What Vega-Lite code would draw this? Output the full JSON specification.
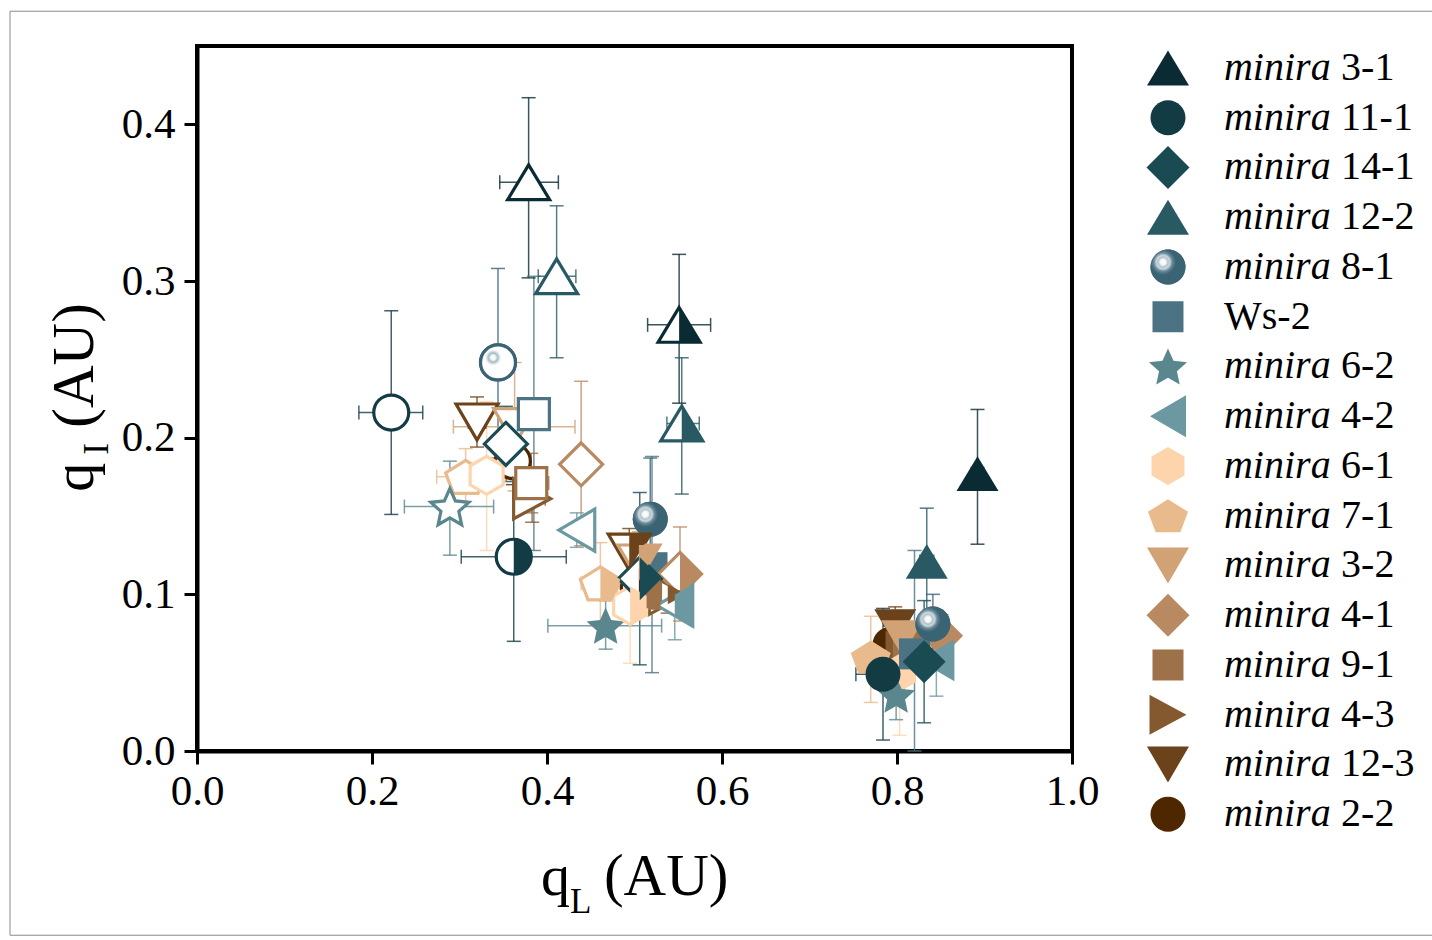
{
  "$schema": "https://vega.github.io/schema/vega-lite/v6.json",
  "width": 875,
  "height": 705,
  "autosize": {"type": "none"},
  "padding": {"left": 197, "top": 46, "right": 360, "bottom": 189},
  "background": "white",
  "config": {
    "view": {"stroke": "black", "strokeWidth": 4},
    "font": "Liberation Serif",
    "axis": {"domainColor": "black", "domainWidth": 4, "tickColor": "black", "tickWidth": 3, "tickSize": 13, "labelFont": "Liberation Serif", "labelFontSize": 43, "labelColor": "black", "grid": false, "labelFlush": false}
  },
  "datasets": {
    "points": [
      {"s": "2-2", "st": "f", "x": 0.792, "y": 0.068, "xlo": 0.784, "xhi": 0.8, "ylo": 0.056, "yhi": 0.08},
      {"s": "2-2", "st": "o", "x": 0.361, "y": 0.185, "xlo": 0.35, "xhi": 0.372, "ylo": 0.17, "yhi": 0.2},
      {"s": "2-2", "st": "h", "x": 0.505, "y": 0.105, "xlo": 0.495, "xhi": 0.515, "ylo": 0.092, "yhi": 0.118},
      {"s": "12-3", "st": "f", "x": 0.798, "y": 0.079, "xlo": 0.79, "xhi": 0.806, "ylo": 0.066, "yhi": 0.092},
      {"s": "12-3", "st": "o", "x": 0.32, "y": 0.21, "xlo": 0.31, "xhi": 0.33, "ylo": 0.194, "yhi": 0.226},
      {"s": "12-3", "st": "h", "x": 0.494, "y": 0.127, "xlo": 0.486, "xhi": 0.502, "ylo": 0.112, "yhi": 0.142},
      {"s": "4-3", "st": "f", "x": 0.808, "y": 0.064, "xlo": 0.8, "xhi": 0.816, "ylo": 0.052, "yhi": 0.076},
      {"s": "4-3", "st": "o", "x": 0.383, "y": 0.161, "xlo": 0.368, "xhi": 0.398, "ylo": 0.146, "yhi": 0.176},
      {"s": "4-3", "st": "h", "x": 0.538, "y": 0.1, "xlo": 0.528, "xhi": 0.548, "ylo": 0.088, "yhi": 0.112},
      {"s": "9-1", "st": "f", "x": 0.813, "y": 0.068, "xlo": 0.805, "xhi": 0.821, "ylo": 0.055, "yhi": 0.081},
      {"s": "9-1", "st": "o", "x": 0.382, "y": 0.171, "xlo": 0.362, "xhi": 0.402, "ylo": 0.152, "yhi": 0.19},
      {"s": "9-1", "st": "h", "x": 0.512, "y": 0.101, "xlo": 0.502, "xhi": 0.522, "ylo": 0.088, "yhi": 0.114},
      {"s": "4-1", "st": "f", "x": 0.851, "y": 0.0735, "xlo": 0.843, "xhi": 0.859, "ylo": 0.06, "yhi": 0.087},
      {"s": "4-1", "st": "o", "x": 0.439, "y": 0.183, "xlo": 0.43, "xhi": 0.448, "ylo": 0.131, "yhi": 0.236},
      {"s": "4-1", "st": "h", "x": 0.552, "y": 0.113, "xlo": 0.544, "xhi": 0.56, "ylo": 0.083, "yhi": 0.143},
      {"s": "3-2", "st": "f", "x": 0.806, "y": 0.072, "xlo": 0.798, "xhi": 0.814, "ylo": 0.055, "yhi": 0.089},
      {"s": "3-2", "st": "o", "x": 0.363, "y": 0.207, "xlo": 0.293, "xhi": 0.432, "ylo": 0.166, "yhi": 0.248},
      {"s": "3-2", "st": "h", "x": 0.505, "y": 0.12, "xlo": 0.495, "xhi": 0.515, "ylo": 0.1, "yhi": 0.14},
      {"s": "7-1", "st": "f", "x": 0.77, "y": 0.06, "xlo": 0.76, "xhi": 0.78, "ylo": 0.031, "yhi": 0.086},
      {"s": "7-1", "st": "o", "x": 0.307, "y": 0.175, "xlo": 0.274, "xhi": 0.34, "ylo": 0.156, "yhi": 0.193},
      {"s": "7-1", "st": "h", "x": 0.461, "y": 0.107, "xlo": 0.439, "xhi": 0.483, "ylo": 0.08, "yhi": 0.133},
      {"s": "6-1", "st": "f", "x": 0.803, "y": 0.05, "xlo": 0.795, "xhi": 0.811, "ylo": 0.01, "yhi": 0.09},
      {"s": "6-1", "st": "o", "x": 0.331, "y": 0.176, "xlo": 0.31, "xhi": 0.352, "ylo": 0.128, "yhi": 0.223},
      {"s": "6-1", "st": "h", "x": 0.495, "y": 0.093, "xlo": 0.485, "xhi": 0.505, "ylo": 0.056, "yhi": 0.133},
      {"s": "4-2", "st": "f", "x": 0.845, "y": 0.058, "xlo": 0.837, "xhi": 0.853, "ylo": 0.035, "yhi": 0.081},
      {"s": "4-2", "st": "o", "x": 0.434, "y": 0.141, "xlo": 0.425, "xhi": 0.443, "ylo": 0.13, "yhi": 0.152},
      {"s": "4-2", "st": "h", "x": 0.546, "y": 0.093, "xlo": 0.537, "xhi": 0.555, "ylo": 0.071, "yhi": 0.115},
      {"s": "6-2", "st": "f", "x": 0.799, "y": 0.036, "xlo": 0.79, "xhi": 0.808, "ylo": 0.02, "yhi": 0.052},
      {"s": "6-2", "st": "o", "x": 0.289, "y": 0.156, "xlo": 0.237, "xhi": 0.339, "ylo": 0.125, "yhi": 0.185},
      {"s": "6-2", "st": "f", "x": 0.467, "y": 0.08, "xlo": 0.401, "xhi": 0.531, "ylo": 0.065, "yhi": 0.096},
      {"s": "Ws-2", "st": "f", "x": 0.82, "y": 0.062, "xlo": 0.812, "xhi": 0.828, "ylo": 0.0, "yhi": 0.128},
      {"s": "Ws-2", "st": "o", "x": 0.385, "y": 0.215, "xlo": 0.375, "xhi": 0.395, "ylo": 0.128, "yhi": 0.303},
      {"s": "Ws-2", "st": "f", "x": 0.52, "y": 0.117, "xlo": 0.51, "xhi": 0.53, "ylo": 0.05, "yhi": 0.188},
      {"s": "8-1", "st": "f", "x": 0.841, "y": 0.081, "xlo": 0.832, "xhi": 0.85, "ylo": 0.062, "yhi": 0.1},
      {"s": "8-1", "st": "o", "x": 0.344, "y": 0.248, "xlo": 0.33, "xhi": 0.36, "ylo": 0.187, "yhi": 0.308},
      {"s": "8-1", "st": "f", "x": 0.518, "y": 0.148, "xlo": 0.51, "xhi": 0.526, "ylo": 0.109, "yhi": 0.187},
      {"s": "12-2", "st": "f", "x": 0.834, "y": 0.121, "xlo": 0.826, "xhi": 0.842, "ylo": 0.087, "yhi": 0.155},
      {"s": "12-2", "st": "o", "x": 0.411, "y": 0.303, "xlo": 0.39, "xhi": 0.433, "ylo": 0.251, "yhi": 0.348},
      {"s": "12-2", "st": "h", "x": 0.554, "y": 0.209, "xlo": 0.537, "xhi": 0.574, "ylo": 0.164, "yhi": 0.251},
      {"s": "14-1", "st": "f", "x": 0.831, "y": 0.057, "xlo": 0.822, "xhi": 0.84, "ylo": 0.018, "yhi": 0.096},
      {"s": "14-1", "st": "o", "x": 0.353, "y": 0.196, "xlo": 0.335, "xhi": 0.37, "ylo": 0.172, "yhi": 0.22},
      {"s": "14-1", "st": "h", "x": 0.506, "y": 0.11, "xlo": 0.49, "xhi": 0.522, "ylo": 0.055, "yhi": 0.165},
      {"s": "11-1", "st": "f", "x": 0.784, "y": 0.049, "xlo": 0.753, "xhi": 0.815, "ylo": 0.007, "yhi": 0.091},
      {"s": "11-1", "st": "o", "x": 0.222, "y": 0.216, "xlo": 0.185, "xhi": 0.258, "ylo": 0.151, "yhi": 0.281},
      {"s": "11-1", "st": "h", "x": 0.362, "y": 0.124, "xlo": 0.302, "xhi": 0.422, "ylo": 0.07, "yhi": 0.179},
      {"s": "3-1", "st": "f", "x": 0.892, "y": 0.177, "xlo": 0.885, "xhi": 0.899, "ylo": 0.132, "yhi": 0.218},
      {"s": "3-1", "st": "o", "x": 0.379, "y": 0.363, "xlo": 0.346, "xhi": 0.413, "ylo": 0.302, "yhi": 0.417},
      {"s": "3-1", "st": "h", "x": 0.551, "y": 0.272, "xlo": 0.515, "xhi": 0.587, "ylo": 0.222, "yhi": 0.317}
    ],
    "legend": [
      {"s": "3-1", "i": 0, "pre": "minira", "num": "3-1", "plain": ""},
      {"s": "11-1", "i": 1, "pre": "minira", "num": "11-1", "plain": ""},
      {"s": "14-1", "i": 2, "pre": "minira", "num": "14-1", "plain": ""},
      {"s": "12-2", "i": 3, "pre": "minira", "num": "12-2", "plain": ""},
      {"s": "8-1", "i": 4, "pre": "minira", "num": "8-1", "plain": ""},
      {"s": "Ws-2", "i": 5, "pre": "", "num": "", "plain": "Ws-2"},
      {"s": "6-2", "i": 6, "pre": "minira", "num": "6-2", "plain": ""},
      {"s": "4-2", "i": 7, "pre": "minira", "num": "4-2", "plain": ""},
      {"s": "6-1", "i": 8, "pre": "minira", "num": "6-1", "plain": ""},
      {"s": "7-1", "i": 9, "pre": "minira", "num": "7-1", "plain": ""},
      {"s": "3-2", "i": 10, "pre": "minira", "num": "3-2", "plain": ""},
      {"s": "4-1", "i": 11, "pre": "minira", "num": "4-1", "plain": ""},
      {"s": "9-1", "i": 12, "pre": "minira", "num": "9-1", "plain": ""},
      {"s": "4-3", "i": 13, "pre": "minira", "num": "4-3", "plain": ""},
      {"s": "12-3", "i": 14, "pre": "minira", "num": "12-3", "plain": ""},
      {"s": "2-2", "i": 15, "pre": "minira", "num": "2-2", "plain": ""}
    ]
  },
  "resolve": {"scale": {"y": "independent", "shape": "independent"}},
  "layer": [
    {
      "data": {"name": "points"},
      "resolve": {"scale": {"shape": "independent"}},
      "layer": [
        {
          "data": {"values": [{"k": 1}]},
          "mark": {"type": "rect", "filled": false, "stroke": "#8a8a8a", "strokeWidth": 1},
          "encoding": {
            "x": {"datum": -0.2137, "type": "quantitative", "title": null},
            "x2": {"datum": 1.5},
            "y": {"datum": 0.4722, "type": "quantitative", "title": null},
            "y2": {"datum": -0.1176}
          }
        },
        {
          "mark": {"type": "rule", "strokeWidth": 1.5, "opacity": 0.8},
          "encoding": {
            "x": {"field": "x", "type": "quantitative", "scale": {"domain": [0, 1], "nice": false, "zero": false}, "axis": {"values": [0, 0.2, 0.4, 0.6, 0.8, 1], "format": ".1f", "title": null, "labelPadding": 6}},
            "y": {"field": "ylo", "type": "quantitative", "scale": {"domain": [0, 0.45], "nice": false, "zero": false}, "axis": {"values": [0, 0.1, 0.2, 0.3, 0.4], "format": ".1f", "title": null, "labelPadding": 9}},
            "y2": {"field": "yhi"},
            "color": {"field": "s", "type": "nominal", "legend": null, "scale": {"domain": ["3-1","11-1","14-1","12-2","8-1","Ws-2","6-2","4-2","6-1","7-1","3-2","4-1","9-1","4-3","12-3","2-2"], "range": ["#0a2b33","#123b44","#1a4a52","#295a64","#3a6374","#4b7384","#5a878e","#6c99a1","#fdd4ab","#e9ba8b","#d0a276","#b98a61","#9d714a","#845930","#6b4219","#4e2700"]}}
          }
        },
        {
          "mark": {"type": "tick", "orient": "horizontal", "size": 14, "thickness": 1.5, "opacity": 0.8},
          "encoding": {"x": {"field": "x", "type": "quantitative", "title": null}, "y": {"field": "ylo", "type": "quantitative", "title": null}, "color": {"field": "s", "type": "nominal", "legend": null}}
        },
        {
          "mark": {"type": "tick", "orient": "horizontal", "size": 14, "thickness": 1.5, "opacity": 0.8},
          "encoding": {"x": {"field": "x", "type": "quantitative", "title": null}, "y": {"field": "yhi", "type": "quantitative", "title": null}, "color": {"field": "s", "type": "nominal", "legend": null}}
        },
        {
          "mark": {"type": "rule", "strokeWidth": 1.5, "opacity": 0.8},
          "encoding": {"x": {"field": "xlo", "type": "quantitative", "title": null}, "x2": {"field": "xhi"}, "y": {"field": "y", "type": "quantitative", "title": null}, "color": {"field": "s", "type": "nominal", "legend": null}}
        },
        {
          "mark": {"type": "tick", "orient": "vertical", "size": 14, "thickness": 1.5, "opacity": 0.8},
          "encoding": {"x": {"field": "xlo", "type": "quantitative", "title": null}, "y": {"field": "y", "type": "quantitative", "title": null}, "color": {"field": "s", "type": "nominal", "legend": null}}
        },
        {
          "mark": {"type": "tick", "orient": "vertical", "size": 14, "thickness": 1.5, "opacity": 0.8},
          "encoding": {"x": {"field": "xhi", "type": "quantitative", "title": null}, "y": {"field": "y", "type": "quantitative", "title": null}, "color": {"field": "s", "type": "nominal", "legend": null}}
        },
        {
          "transform": [{"filter": "datum.st === 'f'"}],
          "mark": {"type": "point", "filled": true, "size": 1600, "opacity": 1, "strokeWidth": 0},
          "encoding": {
            "x": {"field": "x", "type": "quantitative", "title": null},
            "y": {"field": "y", "type": "quantitative", "title": null},
            "color": {"field": "s", "type": "nominal", "legend": null},
            "shape": {"field": "s", "type": "nominal", "legend": null, "scale": {"domain": ["3-1","11-1","14-1","12-2","8-1","Ws-2","6-2","4-2","6-1","7-1","3-2","4-1","9-1","4-3","12-3","2-2"], "range": ["M0,-0.87L1.05,0.87L-1.05,0.87Z","M0.875,0A0.875,0.875,0,1,1,-0.875,0A0.875,0.875,0,1,1,0.875,0Z","M0,-1.075L1.075,0L0,1.075L-1.075,0Z","M0,-0.87L1.05,0.87L-1.05,0.87Z","M0.875,0A0.875,0.875,0,1,1,-0.875,0A0.875,0.875,0,1,1,0.875,0Z","M-0.775,-0.775L0.775,-0.775L0.775,0.775L-0.775,0.775Z","M0,-0.905L0.276,-0.285L0.951,-0.214L0.447,0.241L0.588,0.905L0,0.566L-0.588,0.905L-0.447,0.241L-0.951,-0.214L-0.276,-0.285Z","M-0.9,0L0.9,-1.05L0.9,1.05Z","M0,-0.95L0.823,-0.475L0.823,0.475L0,0.95L-0.823,0.475L-0.823,-0.475Z","M0,-0.825L1,-0.195L0.618,0.825L-0.618,0.825L-1,-0.195Z","M-1.05,-0.9L1.05,-0.9L0,0.9Z","M0,-1.075L1.075,0L0,1.075L-1.075,0Z","M-0.775,-0.775L0.775,-0.775L0.775,0.775L-0.775,0.775Z","M0.925,0L-0.925,-1L-0.925,1Z","M-1.05,-0.9L1.05,-0.9L0,0.9Z","M0.875,0A0.875,0.875,0,1,1,-0.875,0A0.875,0.875,0,1,1,0.875,0Z"]}}
          }
        },
        {
          "transform": [{"filter": "datum.st === 'f' && datum.s === '8-1'"}],
          "mark": {"type": "point", "filled": true, "size": 1600, "opacity": 1, "strokeWidth": 0, "shape": "M0.875,0A0.875,0.875,0,1,1,-0.875,0A0.875,0.875,0,1,1,0.875,0Z",
            "fill": {"gradient": "radial", "x1": 0.36, "y1": 0.36, "r1": 0, "x2": 0.36, "y2": 0.36, "r2": 0.5, "stops": [{"offset": 0, "color": "#ffffff"}, {"offset": 0.18, "color": "#f2f6f7"}, {"offset": 0.28, "color": "#a9bcc4"}, {"offset": 0.38, "color": "#d6e0e4"}, {"offset": 0.52, "color": "#6a8b9a"}, {"offset": 0.72, "color": "#3a6374"}, {"offset": 1, "color": "#3a6374"}]}},
          "encoding": {"x": {"field": "x", "type": "quantitative", "title": null}, "y": {"field": "y", "type": "quantitative", "title": null}}
        },
        {
          "transform": [{"filter": "datum.st !== 'f'"}],
          "mark": {"type": "point", "filled": false, "fill": "white", "size": 1600, "opacity": 1, "strokeWidth": 3.2, "fillOpacity": 1},
          "encoding": {
            "x": {"field": "x", "type": "quantitative", "title": null},
            "y": {"field": "y", "type": "quantitative", "title": null},
            "color": {"field": "s", "type": "nominal", "legend": null},
            "shape": {"field": "s", "type": "nominal", "legend": null, "scale": {"domain": ["3-1","11-1","14-1","12-2","8-1","Ws-2","6-2","4-2","6-1","7-1","3-2","4-1","9-1","4-3","12-3","2-2"], "range": ["M0,-0.87L1.05,0.87L-1.05,0.87Z","M0.875,0A0.875,0.875,0,1,1,-0.875,0A0.875,0.875,0,1,1,0.875,0Z","M0,-1.075L1.075,0L0,1.075L-1.075,0Z","M0,-0.87L1.05,0.87L-1.05,0.87Z","M0.875,0A0.875,0.875,0,1,1,-0.875,0A0.875,0.875,0,1,1,0.875,0Z","M-0.775,-0.775L0.775,-0.775L0.775,0.775L-0.775,0.775Z","M0,-0.905L0.276,-0.285L0.951,-0.214L0.447,0.241L0.588,0.905L0,0.566L-0.588,0.905L-0.447,0.241L-0.951,-0.214L-0.276,-0.285Z","M-0.9,0L0.9,-1.05L0.9,1.05Z","M0,-0.95L0.823,-0.475L0.823,0.475L0,0.95L-0.823,0.475L-0.823,-0.475Z","M0,-0.825L1,-0.195L0.618,0.825L-0.618,0.825L-1,-0.195Z","M-1.05,-0.9L1.05,-0.9L0,0.9Z","M0,-1.075L1.075,0L0,1.075L-1.075,0Z","M-0.775,-0.775L0.775,-0.775L0.775,0.775L-0.775,0.775Z","M0.925,0L-0.925,-1L-0.925,1Z","M-1.05,-0.9L1.05,-0.9L0,0.9Z","M0.875,0A0.875,0.875,0,1,1,-0.875,0A0.875,0.875,0,1,1,0.875,0Z"]}}
          }
        },
        {
          "transform": [{"filter": "datum.st === 'o' && datum.s === '8-1'"}],
          "mark": {"type": "point", "size": 1600, "opacity": 1, "strokeWidth": 3.2, "stroke": "#3a6374", "shape": "M0.875,0A0.875,0.875,0,1,1,-0.875,0A0.875,0.875,0,1,1,0.875,0Z",
            "fill": {"gradient": "radial", "x1": 0.36, "y1": 0.36, "r1": 0, "x2": 0.36, "y2": 0.36, "r2": 0.5, "stops": [{"offset": 0, "color": "#ffffff"}, {"offset": 0.16, "color": "#eef3f4"}, {"offset": 0.26, "color": "#9fb4bd"}, {"offset": 0.34, "color": "#d0dce0"}, {"offset": 0.46, "color": "#ffffff"}, {"offset": 1, "color": "#ffffff"}]}},
          "encoding": {"x": {"field": "x", "type": "quantitative", "title": null}, "y": {"field": "y", "type": "quantitative", "title": null}}
        },
        {
          "transform": [{"filter": "datum.st === 'h'"}],
          "mark": {"type": "point", "filled": true, "size": 1600, "opacity": 1, "strokeWidth": 0},
          "encoding": {
            "x": {"field": "x", "type": "quantitative", "title": null},
            "y": {"field": "y", "type": "quantitative", "title": null},
            "color": {"field": "s", "type": "nominal", "legend": null},
            "shape": {"field": "s", "type": "nominal", "legend": null, "scale": {"domain": ["3-1","11-1","14-1","12-2","8-1","Ws-2","6-2","4-2","6-1","7-1","3-2","4-1","9-1","4-3","12-3","2-2"], "range": ["M0,-0.87L1.05,0.87L0,0.87Z","M0,-0.875A0.875,0.875,0,0,1,0,0.875Z","M0,-1.075L1.075,0L0,1.075Z","M0,-0.87L1.05,0.87L0,0.87Z","M0,-0.875A0.875,0.875,0,0,1,0,0.875Z","M0,-0.775L0.775,-0.775L0.775,0.775L0,0.775Z","M0,-0.905L0.276,-0.285L0.951,-0.214L0.447,0.241L0.588,0.905L0,0.566Z","M0,-0.525L0.9,-1.05L0.9,1.05L0,0.525Z","M0,-0.95L0.823,-0.475L0.823,0.475L0,0.95Z","M0,-0.825L1,-0.195L0.618,0.825L0,0.825Z","M0,-0.9L1.05,-0.9L0,0.9Z","M0,-1.075L1.075,0L0,1.075Z","M0,-0.775L0.775,-0.775L0.775,0.775L0,0.775Z","M0,-0.5L0.925,0L0,0.5Z","M0,-0.9L1.05,-0.9L0,0.9Z","M0,-0.875A0.875,0.875,0,0,1,0,0.875Z"]}}
          }
        },
        {
          "data": {"values": [{"t": "q"}]},
          "mark": {"type": "text", "font": "Liberation Serif", "fontSize": 58, "align": "left", "baseline": "alphabetic", "color": "black"},
          "encoding": {"text": {"field": "t"}, "x": {"datum": 0.3931, "type": "quantitative", "title": null}, "y": {"datum": -0.092, "type": "quantitative", "title": null}}
        },
        {
          "data": {"values": [{"t": "L"}]},
          "mark": {"type": "text", "font": "Liberation Serif", "fontSize": 35, "align": "left", "baseline": "alphabetic", "color": "black"},
          "encoding": {"text": {"field": "t"}, "x": {"datum": 0.4263, "type": "quantitative", "title": null}, "y": {"datum": -0.1035, "type": "quantitative", "title": null}}
        },
        {
          "data": {"values": [{"t": "(AU)"}]},
          "mark": {"type": "text", "font": "Liberation Serif", "fontSize": 59, "align": "left", "baseline": "alphabetic", "color": "black"},
          "encoding": {"text": {"field": "t"}, "x": {"datum": 0.4651, "type": "quantitative", "title": null}, "y": {"datum": -0.092, "type": "quantitative", "title": null}}
        },
        {
          "data": {"values": [{"t": "q"}]},
          "mark": {"type": "text", "font": "Liberation Serif", "fontSize": 58, "align": "left", "baseline": "alphabetic", "angle": 270, "color": "black"},
          "encoding": {"text": {"field": "t"}, "x": {"datum": -0.1189, "type": "quantitative", "title": null}, "y": {"datum": 0.1655, "type": "quantitative", "title": null}}
        },
        {
          "data": {"values": [{"t": "I"}]},
          "mark": {"type": "text", "font": "Liberation Serif", "fontSize": 35, "align": "left", "baseline": "alphabetic", "angle": 270, "color": "black"},
          "encoding": {"text": {"field": "t"}, "x": {"datum": -0.1017, "type": "quantitative", "title": null}, "y": {"datum": 0.1891, "type": "quantitative", "title": null}}
        },
        {
          "data": {"values": [{"t": "(AU)"}]},
          "mark": {"type": "text", "font": "Liberation Serif", "fontSize": 59, "align": "left", "baseline": "alphabetic", "angle": 270, "color": "black"},
          "encoding": {"text": {"field": "t"}, "x": {"datum": -0.1189, "type": "quantitative", "title": null}, "y": {"datum": 0.2064, "type": "quantitative", "title": null}}
        }
      ]
    },
    {
      "data": {"name": "legend"},
      "layer": [
        {
          "mark": {"type": "point", "filled": true, "size": 1600, "opacity": 1, "strokeWidth": 0},
          "encoding": {
            "x": {"datum": 1.1097, "type": "quantitative", "title": null},
            "y": {"field": "i", "type": "quantitative", "axis": null, "scale": {"domain": [-0.4422, 13.729], "reverse": true, "nice": false, "zero": false}},
            "color": {"field": "s", "type": "nominal", "legend": null},
            "shape": {"field": "s", "type": "nominal", "legend": null, "scale": {"domain": ["3-1","11-1","14-1","12-2","8-1","Ws-2","6-2","4-2","6-1","7-1","3-2","4-1","9-1","4-3","12-3","2-2"], "range": ["M0,-0.87L1.05,0.87L-1.05,0.87Z","M0.875,0A0.875,0.875,0,1,1,-0.875,0A0.875,0.875,0,1,1,0.875,0Z","M0,-1.075L1.075,0L0,1.075L-1.075,0Z","M0,-0.87L1.05,0.87L-1.05,0.87Z","M0.875,0A0.875,0.875,0,1,1,-0.875,0A0.875,0.875,0,1,1,0.875,0Z","M-0.775,-0.775L0.775,-0.775L0.775,0.775L-0.775,0.775Z","M0,-0.905L0.276,-0.285L0.951,-0.214L0.447,0.241L0.588,0.905L0,0.566L-0.588,0.905L-0.447,0.241L-0.951,-0.214L-0.276,-0.285Z","M-0.9,0L0.9,-1.05L0.9,1.05Z","M0,-0.95L0.823,-0.475L0.823,0.475L0,0.95L-0.823,0.475L-0.823,-0.475Z","M0,-0.825L1,-0.195L0.618,0.825L-0.618,0.825L-1,-0.195Z","M-1.05,-0.9L1.05,-0.9L0,0.9Z","M0,-1.075L1.075,0L0,1.075L-1.075,0Z","M-0.775,-0.775L0.775,-0.775L0.775,0.775L-0.775,0.775Z","M0.925,0L-0.925,-1L-0.925,1Z","M-1.05,-0.9L1.05,-0.9L0,0.9Z","M0.875,0A0.875,0.875,0,1,1,-0.875,0A0.875,0.875,0,1,1,0.875,0Z"]}}
          }
        },
        {
          "transform": [{"filter": "datum.s === '8-1'"}],
          "mark": {"type": "point", "filled": true, "size": 1600, "opacity": 1, "strokeWidth": 0, "shape": "M0.875,0A0.875,0.875,0,1,1,-0.875,0A0.875,0.875,0,1,1,0.875,0Z",
            "fill": {"gradient": "radial", "x1": 0.36, "y1": 0.36, "r1": 0, "x2": 0.36, "y2": 0.36, "r2": 0.5, "stops": [{"offset": 0, "color": "#ffffff"}, {"offset": 0.18, "color": "#f2f6f7"}, {"offset": 0.28, "color": "#a9bcc4"}, {"offset": 0.38, "color": "#d6e0e4"}, {"offset": 0.52, "color": "#6a8b9a"}, {"offset": 0.72, "color": "#3a6374"}, {"offset": 1, "color": "#3a6374"}]}},
          "encoding": {
            "x": {"datum": 1.1097, "type": "quantitative", "title": null},
            "y": {"field": "i", "type": "quantitative", "axis": null}
          }
        },
        {
          "mark": {"type": "text", "font": "Liberation Serif", "fontStyle": "italic", "fontSize": 40, "align": "left", "baseline": "middle", "color": "black"},
          "encoding": {
            "text": {"field": "pre"},
            "x": {"datum": 1.1737, "type": "quantitative", "title": null},
            "y": {"field": "i", "type": "quantitative", "axis": null}
          }
        },
        {
          "mark": {"type": "text", "font": "Liberation Serif", "fontSize": 40, "align": "left", "baseline": "middle", "color": "black"},
          "encoding": {
            "text": {"field": "num"},
            "x": {"datum": 1.3075, "type": "quantitative", "title": null},
            "y": {"field": "i", "type": "quantitative", "axis": null}
          }
        },
        {
          "mark": {"type": "text", "font": "Liberation Serif", "fontSize": 40, "align": "left", "baseline": "middle", "color": "black"},
          "encoding": {
            "text": {"field": "plain"},
            "x": {"datum": 1.1737, "type": "quantitative", "title": null},
            "y": {"field": "i", "type": "quantitative", "axis": null}
          }
        }
      ]
    }
  ]
}
